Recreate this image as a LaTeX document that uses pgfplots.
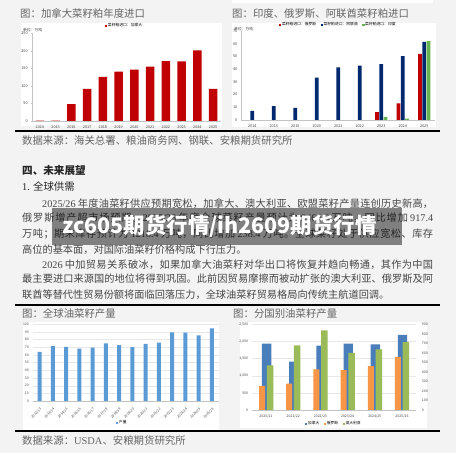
\documentclass[border=0pt]{standalone}
\usepackage{fontspec}
\setmainfont{Noto Sans CJK SC}
\newfontfamily\lat{Liberation Serif}
\usepackage{pgfplots}
\pgfplotsset{compat=1.18}
\newcount\cc
\cc="4E00
\loop \XeTeXcharclass\cc=11 \advance\cc by 1 \ifnum\cc<"A000 \repeat
\XeTeXcharclass"3001=12 \XeTeXcharclass"3002=12 \XeTeXcharclass"FF0C=12
\XeTeXcharclass"FF1B=12 \XeTeXcharclass"FF1A=12
\XeTeXinterchartoks 11 11 = {\hskip 0pt plus 1fil\relax}
\XeTeXinterchartoks 11 12 = {\hskip 0pt plus 1fil\relax}
\XeTeXinterchartoks 12 11 = {\hskip 0pt plus 1fil\relax}
\XeTeXinterchartoks 12 12 = {\hskip 0pt plus 1fil\relax}
\XeTeXinterchartokenstate=1
\definecolor{bg}{RGB}{243,243,243}
\definecolor{txt}{RGB}{70,70,70}
\definecolor{ttl}{RGB}{100,100,100}
\definecolor{dred}{RGB}{192,0,0}
\definecolor{navy}{RGB}{0,40,110}
\definecolor{lgreen}{RGB}{100,180,80}
\definecolor{sblue}{RGB}{91,155,213}
\definecolor{oblue}{RGB}{74,126,187}
\definecolor{oorange}{RGB}{247,150,70}
\definecolor{ogreen}{RGB}{155,187,89}
\definecolor{axgray}{RGB}{195,195,195}
\definecolor{gridc}{RGB}{232,232,232}
\pgfplotsset{
 minichart/.style={scale only axis, anchor=south west,
  axis line style={-, axgray, line width=0.4pt},
  every outer x axis line/.append style={-},
  every outer y axis line/.append style={-},
  tick label style={font=\fontsize{3.8}{4}\selectfont, text=black!75},
  /pgf/number format/assume math mode=true,
  major tick length=1.5pt, tick align=outside,
  tick style={axgray, line width=0.3pt},
  legend style={draw=none, fill=none, inner sep=0pt, font=\fontsize{3.8}{4}\selectfont, legend columns=-1,
   nodes={inner sep=0.6pt}, /tikz/every even column/.append style={column sep=4pt}},
 },
 sq/.style={legend image code/.code={\fill[##1] (0pt,-1.1pt) rectangle (2.2pt,1.1pt);}}
}
\newcommand{\ttlnode}[3]{\node[anchor=west,inner sep=0pt,text=ttl,font=\fontsize{10.4}{12}\selectfont] at (#1,453-#2) {#3};}
\newcommand{\jl}[4]{\node[anchor=west,inner sep=0pt,text=txt,font=\fontsize{10.2}{12}\selectfont] at (#1,453-#2) {\makebox[#3pt][s]{#4}};}
\newcommand{\nl}[3]{\node[anchor=west,inner sep=0pt,text=txt,font=\fontsize{10.2}{12}\selectfont] at (#1,453-#2) {#3};}
\begin{document}
\begin{tikzpicture}[x=1pt,y=1pt]
\useasboundingbox (0,0) rectangle (456,453);
\fill[bg] (0,0) rectangle (456,453);
\fill[white] (232,450) rectangle (433,453);
% panels
\fill[white] (21,453-126) rectangle (222,453-23);
\fill[white] (232,453-127) rectangle (436,453-23);
\fill[white] (23,453-430) rectangle (219,453-322);
\fill[white] (240,453-428) rectangle (427,453-322);
% titles
\ttlnode{20}{13.3}{图：加拿大菜籽粕年度进口}
\ttlnode{232}{13.3}{图：印度、俄罗斯、阿联酋菜籽粕进口}
\ttlnode{22}{140.5}{数据来源：海关总署、粮油商务网、钢联、安粮期货研究所}
\ttlnode{22}{313.3}{图：全球油菜籽产量}
\ttlnode{233}{313.3}{图：分国别油菜籽产量}
\ttlnode{22}{440.7}{数据来源：{\lat USDA}、安粮期货研究所}
% separators
\draw[black, line width=1.6pt] (15,453-131) -- (440,453-131);
\draw[black, line width=1.6pt] (15,453-305) -- (440,453-305);
\draw[black, line width=1.6pt] (15,453-431) -- (440,453-431);
% section text
\node[anchor=west,inner sep=0pt,text=black!85,font=\bfseries\fontsize{10.6}{12}\selectfont] at (22,453-170.7) {四、未来展望};
\node[anchor=west,inner sep=0pt,text=black!85,font=\fontsize{10.4}{12}\selectfont] at (22,453-186.7) {{\lat 1.} 全球供需};
\jl{42}{203.3}{391}{{\lat 2025/26} 年度油菜籽供应预期宽松，加拿大、澳大利亚、欧盟菜籽产量连创历史新高，}
\jl{22}{218}{411}{俄罗斯增产超市场预期，{\lat 2025/26} 年度全球菜籽产量预计为 {\lat 9464.6} 万吨，同比增加 {\lat 917.4}}
\jl{22}{233.7}{411}{万吨；期末库存预计为 {\lat 1218.4} 万吨，同比增加 {\lat 238.4} 万吨。全球菜籽处于供应宽松、库存}
\nl{22}{249.3}{高位的基本面，对国际油菜籽价格构成下行压力。}
\jl{42}{264.3}{391}{{\lat 2026} 中加贸易关系破冰，如果加拿大油菜籽对华出口将恢复并趋向畅通，其作为中国}
\jl{22}{279}{411}{最主要进口来源国的地位将得到巩固。此前因贸易摩擦而被动扩张的澳大利亚、俄罗斯及阿}
\nl{22}{294.3}{联酋等替代性贸易份额将面临回落压力，全球油菜籽贸易格局向传统主航道回调。}
% watermark
\fill[black, opacity=0.47] (52,453-208) rectangle (402,453-245);
\node[anchor=west,inner sep=0pt,text=white,font=\bfseries\fontsize{21.4}{23}\selectfont] at (62,453-226.5) {zc605期货行情/ih2609期货行情};
% chart 1
\node[anchor=west,inner sep=0pt,font=\fontsize{3.8}{4}\selectfont,text=black!75] at (23,453-30.5) {单位：万吨};
\begin{axis}[minichart, at={(32pt,332pt)}, width=189pt, height=87.5pt,
 xmin=-0.5, xmax=11.5, ymin=0, ymax=250,
 axis x line=bottom, axis y line=left, axis line style={-},
 ytick={0,50,...,250}, xtick={0,...,11},
 xticklabels={2014,2015,2016,2017,2018,2019,2020,2021,2022,2023,2024,2025},
 x tick style={draw=none},
 ybar, bar width=8.7pt,
 legend style={at={(0.386,1.086)}, anchor=west}]
\addplot[fill=dred, draw=none, sq] coordinates {(0,1)(1,1)(2,48)(3,92)(4,126)(5,141)(6,147)(7,155)(8,171)(9,170)(10,202)(11,92)};
\addlegendentry{菜籽粕进口：加拿大}
\end{axis}
% chart 2
\node[anchor=west,inner sep=0pt,font=\fontsize{3.8}{4}\selectfont,text=black!75] at (234,453-29.5) {单位：万吨};
\begin{axis}[minichart, at={(241.5pt,333pt)}, width=193.5pt, height=89pt,
 xmin=-0.5, xmax=8.5, ymin=0, ymax=70,
 axis x line=bottom, axis y line=left, axis line style={-},
 ytick={0,10,...,70}, xtick={0,...,8},
 xticklabels={2014,2015,2019,2020,2021,2022,2023,2024,2025},
 x tick style={draw=none},
 ybar, bar width=3.7pt,
 legend style={at={(0.194,1.067)}, anchor=west}]
\addplot[fill=dred, draw=none, bar shift=-4.3pt, sq] coordinates {(6,6.1)(7,13.1)(8,52.1)};
\addlegendentry{菜籽粕进口：俄罗斯}
\addplot[fill=navy, draw=none, bar shift=0pt, sq] coordinates {(0,7.2)(1,11.0)(2,9.6)(3,33.4)(4,41.4)(5,42.8)(6,43.9)(7,50.3)(8,61.5)};
\addlegendentry{菜籽粕进口：阿联酋}
\addplot[fill=lgreen, draw=none, bar shift=4.3pt, sq] coordinates {(6,2.4)(7,1.1)(8,62.0)};
\addlegendentry{菜籽粕进口：印度}
\end{axis}
% chart 3
\begin{axis}[minichart, at={(33pt,52pt)}, width=185.6pt, height=76.7pt,
 xmin=-0.5, xmax=13.5, ymin=0, ymax=100,
 axis x line=bottom, axis y line=left, axis line style={-},
 y axis line style={draw=none}, y tick style={draw=none}, x tick style={draw=none},
 ymajorgrids, grid style={gridc, line width=0.3pt},
 tick label style={font=\fontsize{3.4}{4}\selectfont},
 ytick={0,10,...,100}, xtick={0,...,13},
 xticklabels={2012/13,2013/14,2014/15,2015/16,2016/17,2017/18,2018/19,2019/20,2020/21,2021/22,2022/23,2023/24,2024/25,2025/26},
 xticklabel style={rotate=45, anchor=north east},
 ybar, bar width=4pt,
 legend style={at={(0.447,-0.287)}, anchor=west}]
\addplot[fill=sblue, draw=none, sq] coordinates {(0,63.9)(1,71.4)(2,70.6)(3,68.2)(4,69.6)(5,75.2)(6,72.9)(7,70.2)(8,74.4)(9,76.0)(10,89.6)(11,89.1)(12,85.7)(13,94.6)};
\addlegendentry{产量}
\end{axis}
% chart 4
\begin{axis}[minichart, at={(252.4pt,43pt)}, width=163.2pt, height=85.7pt,
 xmin=-0.5, xmax=5.5, ymin=0, ymax=2500,
 axis x line=bottom, axis y line=left, axis line style={-},
 y axis line style={draw=none}, y tick style={draw=none}, x tick style={draw=none},
 ymajorgrids, grid style={gridc, line width=0.3pt},
 tick label style={font=\fontsize{3.5}{4}\selectfont},
 ytick={0,500,...,2500}, xtick={0,...,5},
 xticklabels={2020/21,2021/22,2022/23,2023/24,2024/25,2025/26},
 ybar]
\addplot[fill=oblue, draw=none, bar width=9.3pt, bar shift=0.6pt] coordinates {(0,1936)(1,1410)(2,1877)(3,1936)(4,1916)(5,2188)};
\end{axis}
\begin{axis}[minichart, at={(252.4pt,43pt)}, width=163.2pt, height=85.7pt,
 xmin=-0.5, xmax=5.5, ymin=0, ymax=900,
 axis x line=none, axis y line=right, axis line style={-},
 y axis line style={draw=none}, y tick style={draw=none},
 tick label style={font=\fontsize{3.5}{4}\selectfont},
 yticklabel style={xshift=2pt},
 ytick={0,100,...,900}, xtick=\empty,
 ybar,
 legend style={at={(0.322,-0.163)}, anchor=west}]
\addlegendimage{fill=oblue, draw=none, sq}
\addlegendentry{加拿大}
\addplot[fill=oorange, draw=none, bar width=6pt, bar shift=-4pt, sq] coordinates {(0,253)(1,277)(2,427)(3,420)(4,462)(5,557)};
\addlegendentry{俄罗斯}
\addplot[fill=ogreen, draw=none, bar width=6.5pt, bar shift=4pt, sq] coordinates {(0,469)(1,679)(2,837)(3,601)(4,636)(5,714)};
\addlegendentry{澳大利亚}
\end{axis}
\end{tikzpicture}
\end{document}
